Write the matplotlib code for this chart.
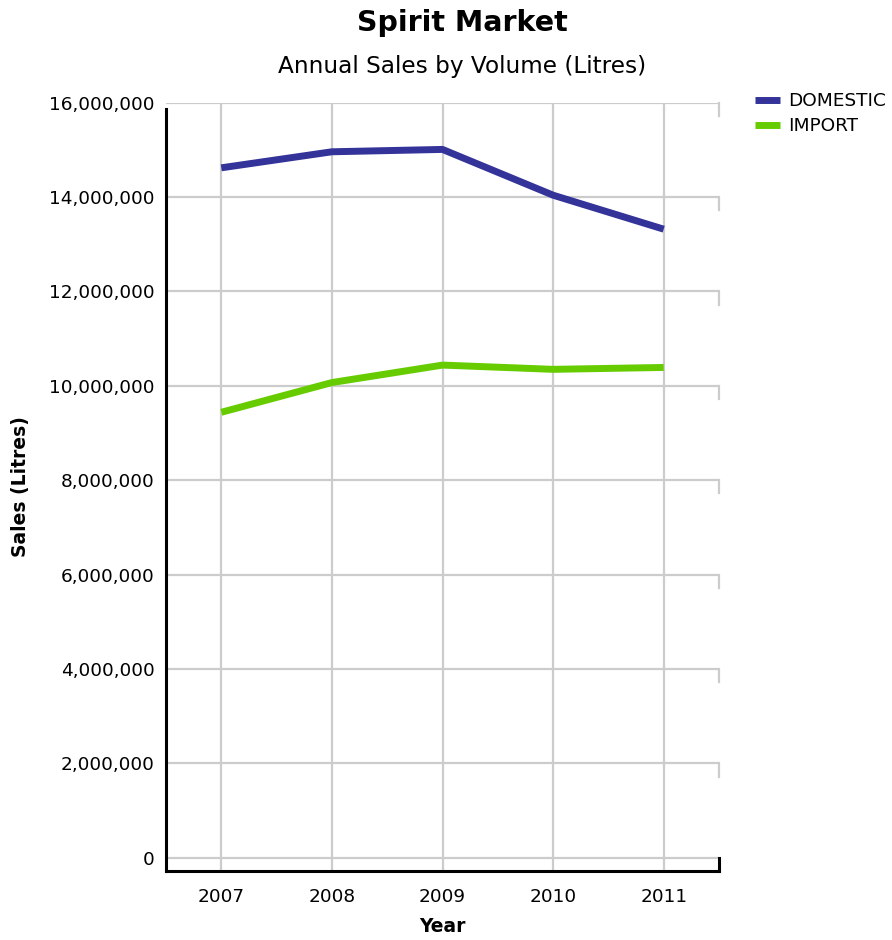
import numpy as np
import matplotlib
matplotlib.use("Agg")
import matplotlib.pyplot as plt
import matplotlib.transforms as mtransforms

# data
years = [2007, 2008, 2009, 2010, 2011]
domestic = [14620000, 14960000, 15010000, 14040000, 13320000]
imports = [9440000, 10070000, 10440000, 10350000, 10390000]
y_ticks = [0, 2000000, 4000000, 6000000, 8000000, 10000000, 12000000, 14000000, 16000000]

plt.rcParams['font.family'] = ['DejaVu Sans']

W, H = 892, 940
fig = plt.figure(figsize=(W / 100, H / 100), dpi=100)
ax = fig.add_axes([166 / W, 1 - 871 / H, (719 - 166) / W, (871 - 102.7) / H])

depth = 280000  # pseudo-3D offset of the back grid, in data units
ax.set_xlim(2006.5, 2011.5)
ax.set_ylim(-depth, 16000000)

ax.plot(years, domestic, color='#333399', lw=5, label='DOMESTIC', solid_capstyle='butt', zorder=3)
ax.plot(years, imports, color='#66CC00', lw=5, label='IMPORT', solid_capstyle='butt', zorder=3)

ax.set_xticks(years)
ax.set_yticks(y_ticks)
ax.set_yticklabels([f'{v:,}' for v in y_ticks])
ax.tick_params(axis='both', length=0, labelsize=13.3)
ax.tick_params(axis='y', pad=8)
ax.tick_params(axis='x', pad=12)
ax.grid(True, color='#CCCCCC', lw=1.6, zorder=0)
ax.set_axisbelow(True)

for s in ['top', 'right']:
    ax.spines[s].set_visible(False)
for s in ['left', 'bottom']:
    ax.spines[s].set_color('black')
    ax.spines[s].set_linewidth(2.2)
ax.spines['left'].set_bounds(-depth, 16000000 - 140000)

# little drops at the right end of each gridline
trans = mtransforms.blended_transform_factory(ax.transAxes, ax.transData)
for v in y_ticks[1:]:
    ax.plot([1, 1], [v - depth, v], color='#CCCCCC', lw=1.6, transform=trans, clip_on=False, zorder=1)
ax.plot([1, 1], [-depth, 0], color='black', lw=2.2, transform=trans, clip_on=False, zorder=4)

ax.set_xlabel('Year', fontsize=13.5, fontweight='bold', labelpad=8)
ax.set_ylabel('Sales (Litres)', fontsize=13.5, fontweight='bold', labelpad=14)

fig.text(462 / W, 1 - 23 / H, 'Spirit Market', fontsize=20.5, fontweight='bold', ha='center', va='center')
fig.text(462 / W, 1 - 66 / H, 'Annual Sales by Volume (Litres)', fontsize=16.7, ha='center', va='center')

ax.legend(loc='upper left', bbox_to_anchor=(755 / W, 1 - 92 / H), bbox_transform=fig.transFigure,
          frameon=False, fontsize=13.3, handlelength=1.35, handletextpad=0.42, labelspacing=0.38,
          borderpad=0, borderaxespad=0)

fig.savefig('out.png', dpi=100)
